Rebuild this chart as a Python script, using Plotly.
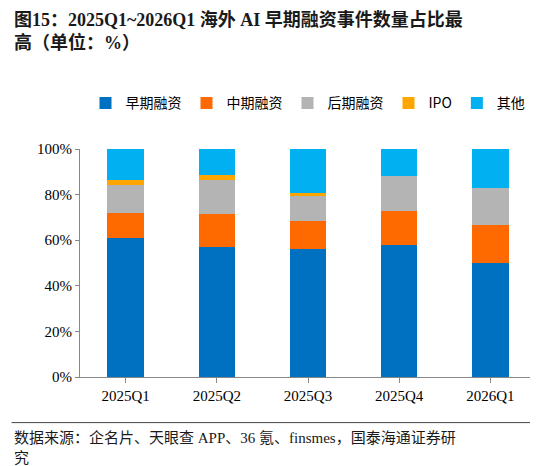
import plotly.graph_objs as go

quarters = ['2025Q1', '2025Q2', '2025Q3', '2025Q4', '2026Q1']
early = [61, 57, 56, 58, 50]
mid = [11, 14.5, 12.4, 15, 16.7]
late = [12, 15, 11, 15, 16.3]
ipo = [2.4, 2.2, 1.3, 0, 0]
other = [13.6, 11.3, 19.3, 12, 17]

series = [
    ('早期融资', early, '#0070C0'),
    ('中期融资', mid, '#FF6A00'),
    ('后期融资', late, '#B4B4B4'),
    ('IPO', ipo, '#FFA500'),
    ('其他', other, '#00B0F0'),
]

font = 'Liberation Serif, Noto Sans CJK SC'

fig = go.Figure()
for name, vals, color in series:
    fig.add_trace(go.Bar(x=quarters, y=vals, name=name, marker_color=color,
                         marker_line_width=0, width=0.4))

fig.update_layout(
    barmode='stack',
    width=538, height=466,
    paper_bgcolor='white', plot_bgcolor='white',
    font=dict(family=font, size=15, color='black'),
    margin=dict(l=72, r=10, t=141, b=97, autoexpand=False),
    legend=dict(orientation='h', x=0.5, xanchor='center', y=1.2, yanchor='middle',
                font=dict(size=14, family='Noto Sans CJK SC'), traceorder='normal',
                itemwidth=30, entrywidth=0, tracegroupgap=0),
    xaxis=dict(showline=True, linecolor='#888', ticks='outside', tickcolor='#888',
               ticklen=5),
    yaxis=dict(range=[0, 100], dtick=20, ticksuffix='%', showgrid=False,
               showline=True, linecolor='#888', ticks='outside', tickcolor='#888',
               ticklen=4),
)

fig.add_annotation(xref='paper', yref='paper', x=-0.15, y=1.62, xanchor='left', yanchor='top',
                   align='left', showarrow=False,
                   text='<b>图15：2025Q1~2026Q1 海外 AI 早期融资事件数量占比最<br>高（单位：%）</b>',
                   font=dict(size=18, family=font, color='#1a1a1a'))
fig.add_shape(type='line', xref='paper', yref='paper', x0=-0.15, x1=1.02, y0=-0.2, y1=-0.2,
              line=dict(color='#444', width=1))
fig.add_annotation(xref='paper', yref='paper', x=-0.15, y=-0.22, xanchor='left', yanchor='top',
                   align='left', showarrow=False,
                   text='数据来源：企名片、天眼查 APP、36 氪、finsmes，国泰海通证券研<br>究',
                   font=dict(size=15, family=font, color='#1a1a1a'))

fig.write_html('out.html')
